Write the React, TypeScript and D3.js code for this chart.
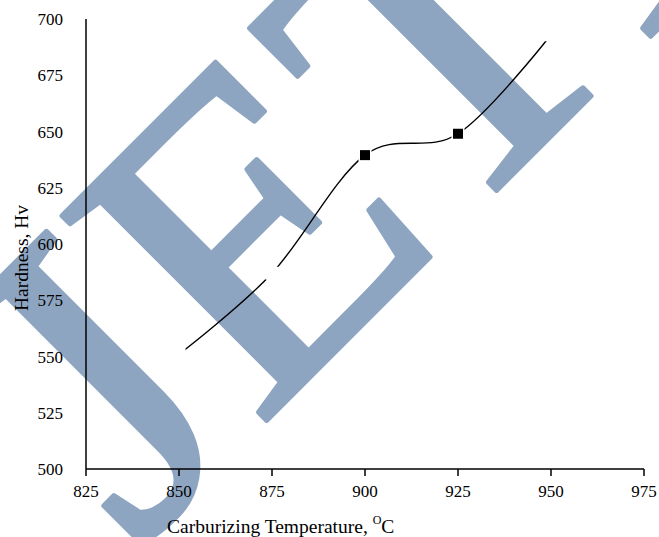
import React from "react";
import * as d3 from "d3";

const temperatures = [850, 875, 900, 925, 950];
const hardness = [551, 587, 639.5, 649, 693];
const markedTemps = [900, 925];

const xTicks = [825, 850, 875, 900, 925, 950, 975];
const yTicks = [500, 525, 550, 575, 600, 625, 650, 675, 700];

const width = 659;
const height = 537;
const serif = "'Liberation Serif', 'Times New Roman', serif";

const App = () => {
  const x = d3.scaleLinear().domain([825, 975]).range([86, 644]);
  const y = d3.scaleLinear().domain([500, 700]).range([469, 19]);

  const points = temperatures.map((t, i) => ({ t, h: hardness[i] }));

  const line = d3
    .line<{ t: number; h: number }>()
    .x((d) => x(d.t))
    .y((d) => y(d.h))
    .curve(d3.curveCardinal.tension(0));

  return (
    <svg
      width={width}
      height={height}
      style={{ position: "absolute", left: 0, top: 0, background: "#fff" }}
    >
      {/* watermark */}
      <text
        transform="translate(136,551) rotate(-45)"
        fontFamily={serif}
        fontSize={442}
        fill="#8EA5C1"
        stroke="#8EA5C1"
        strokeWidth={5}
        strokeLinejoin="round"
      >
        JETIR
      </text>

      {/* axes */}
      <line x1={x(825)} x2={x(975)} y1={y(500)} y2={y(500)} stroke="#000" strokeWidth={1.5} />
      <line x1={x(825)} x2={x(825)} y1={y(500)} y2={y(700)} stroke="#000" strokeWidth={1.5} />
      {xTicks.map((t) => (
        <g key={t}>
          <line x1={x(t)} x2={x(t)} y1={y(500)} y2={y(500) + 7} stroke="#000" strokeWidth={1.5} />
          <text x={x(t)} y={y(500) + 28} textAnchor="middle" fontFamily={serif} fontSize={17}>
            {t}
          </text>
        </g>
      ))}
      {yTicks.map((v) => (
        <text key={v} x={63} y={y(v) + 6} textAnchor="end" fontFamily={serif} fontSize={17}>
          {v}
        </text>
      ))}

      {/* titles */}
      <text x={167} y={533} fontFamily={serif} fontSize={19.5}>
        Carburizing Temperature,{" "}
        <tspan fontSize={12} dy={-9}>O</tspan>
        <tspan dy={9}>C</tspan>
      </text>
      <text
        transform="translate(28,258) rotate(-90)"
        textAnchor="middle"
        fontFamily={serif}
        fontSize={19.5}
      >
        Hardness, Hv
      </text>

      {/* series */}
      <path d={line(points) || ""} fill="none" stroke="#000" strokeWidth={1.4} />
      {points.map((p) => (
        <g key={p.t}>
          <rect x={x(p.t) - 6.5} y={y(p.h) - 6.5} width={13} height={13} fill="#fff" />
          {markedTemps.includes(p.t) && (
            <rect x={x(p.t) - 5} y={y(p.h) - 5} width={10} height={10} fill="#000" />
          )}
        </g>
      ))}
    </svg>
  );
};

export default App;
